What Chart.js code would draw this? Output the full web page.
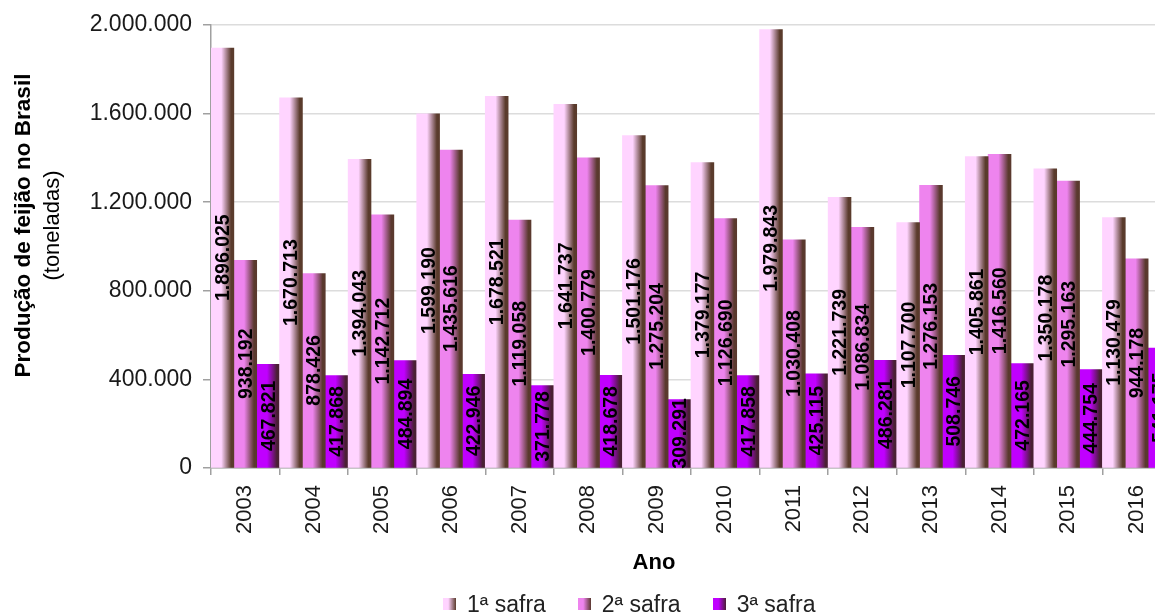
<html>
<head>
<meta charset="utf-8">
<script src="https://cdn.jsdelivr.net/npm/chart.js@4.4.0/dist/chart.umd.min.js"></script>
<style>
	body { margin: 0; background: #fff; }
	#wrap { position: relative; width: 1155px; height: 616px; overflow: hidden; }
	#chart { position: absolute; left: 0; top: 0; }
	#legenda { position: absolute; left: 443px; top: 592px; display: flex; align-items: center;
		font: 23px "Liberation Sans", Arial, sans-serif; color: #222; line-height: 24px; }
	#legenda .item { display: flex; align-items: center; margin-right: 32px; }
	#legenda .caixa { width: 13px; height: 12px; margin-right: 11px; }
</style>
</head>
<body>
<div id="wrap">
	<canvas id="chart" width="1180" height="616"></canvas>
	<div id="legenda"></div>
</div>
<script>
	var anos = ['2003', '2004', '2005', '2006', '2007', '2008', '2009', '2010', '2011', '2012', '2013', '2014', '2015', '2016'];
	var safra1 = [1896025, 1670713, 1394043, 1599190, 1678521, 1641737, 1501176, 1379177, 1979843, 1221739, 1107700, 1405861, 1350178, 1130479];
	var safra2 = [938192, 878426, 1142712, 1435616, 1119058, 1400779, 1275204, 1126690, 1030408, 1086834, 1276153, 1416560, 1295163, 944178];
	var safra3 = [467821, 417868, 484894, 422946, 371778, 418678, 309291, 417858, 425115, 486281, 508746, 472165, 444754, 541175];
	var nomes = ['1ª safra', '2ª safra', '3ª safra'];
	var yTicks = [0, 400000, 800000, 1200000, 1600000, 2000000];

	// cor de cada safra e o tom escuro do lado direito da barra
	var cores = ['#ffd4ff', '#ee84ee', '#c000ff'];
	var sombras = ['#5a3b2c', '#5a392e', '#4a1f34'];

	var FONTE = '"Liberation Sans", Arial, sans-serif';

	function milhar(v) {
		return String(Math.round(v)).replace(/\B(?=(\d{3})+(?!\d))/g, '.');
	}

	// degradê horizontal: claro à esquerda, marrom à direita
	function preenchimento(cor, sombra) {
		return function (c) {
			var xs = c.chart.scales.x;
			if (c.type !== 'data' || !xs || !c.chart.chartArea) return cor;
			var passo = xs.width / c.chart.data.labels.length;
			var larg = passo / c.chart.data.datasets.length;
			var esq = xs.getPixelForValue(c.dataIndex) - passo / 2 + c.datasetIndex * larg;
			var g = c.chart.ctx.createLinearGradient(esq, 0, esq + larg, 0);
			g.addColorStop(0, cor);
			g.addColorStop(0.45, cor);
			g.addColorStop(0.88, sombra);
			g.addColorStop(1, sombra);
			return g;
		};
	}

	// valores escritos na vertical, no meio de cada barra
	var rotulos = {
		id: 'rotulos',
		afterDatasetsDraw: function (chart) {
			var ctx = chart.ctx;
			ctx.save();
			ctx.font = 'bold 19.5px ' + FONTE;
			ctx.fillStyle = '#000';
			ctx.textAlign = 'center';
			ctx.textBaseline = 'middle';
			chart.data.datasets.forEach(function (ds, d) {
				chart.getDatasetMeta(d).data.forEach(function (bar, i) {
					ctx.save();
					ctx.translate(bar.x, (bar.y + bar.base) / 2);
					ctx.rotate(-Math.PI / 2);
					ctx.fillText(milhar(ds.data[i]), 0, 1);
					ctx.restore();
				});
			});
			ctx.restore();
		}
	};

	// títulos dos eixos (duas fontes no eixo y)
	var titulos = {
		id: 'titulos',
		afterDraw: function (chart) {
			var ctx = chart.ctx, a = chart.chartArea;
			ctx.save();
			ctx.fillStyle = '#000';
			ctx.textAlign = 'center';
			ctx.textBaseline = 'middle';
			ctx.font = 'bold 22px ' + FONTE;
			ctx.fillText('Ano', (a.left + a.right) / 2 - 37, a.bottom + 95);
			ctx.translate(24, (a.top + a.bottom) / 2 - 21);
			ctx.rotate(-Math.PI / 2);
			ctx.font = 'bold 22.5px ' + FONTE;
			ctx.fillText('Produção de feijão no Brasil', 0, 0);
			ctx.font = '22px ' + FONTE;
			ctx.fillText('(toneladas)', 0, 29);
			ctx.restore();
		}
	};

	var series = [safra1, safra2, safra3];
	var datasets = series.map(function (dados, k) {
		return {
			label: nomes[k],
			data: dados,
			backgroundColor: preenchimento(cores[k], sombras[k]),
			borderWidth: 0,
			barPercentage: 1,
			categoryPercentage: 1
		};
	});

	var chart = new Chart(document.getElementById('chart'), {
		type: 'bar',
		data: { labels: anos, datasets: datasets },
		plugins: [rotulos, titulos],
		options: {
			responsive: false,
			animation: false,
			devicePixelRatio: 1,
			layout: { padding: { top: 25, right: 9, left: 0, bottom: 72 } },
			plugins: { legend: { display: false }, tooltip: { enabled: false } },
			scales: {
				x: {
					grid: { drawOnChartArea: false, tickLength: 7, color: '#a0a0a0', lineWidth: 1.5 },
					border: { color: '#a0a0a0', width: 1.5 },
					ticks: {
						autoSkip: false, maxRotation: 90, minRotation: 90, padding: 10,
						color: '#1a1a1a', font: { family: FONTE, size: 22 }
					}
				},
				y: {
					min: 0,
					max: 2000000,
					afterFit: function (s) { s.width = 211; },
					afterBuildTicks: function (s) { s.ticks = yTicks.map(function (v) { return { value: v }; }); },
					grid: { color: '#dcdcdc', lineWidth: 1.5, tickLength: 8, tickColor: '#a0a0a0' },
					border: { color: '#a0a0a0', width: 1.5 },
					ticks: {
						padding: 11, color: '#1a1a1a', font: { family: FONTE, size: 23 },
						callback: function (v) { return milhar(v); }
					}
				}
			}
		}
	});

	// legenda em HTML, montada a partir dos datasets
	var legenda = document.getElementById('legenda');
	chart.data.datasets.forEach(function (ds, k) {
		var item = document.createElement('span');
		item.className = 'item';
		var caixa = document.createElement('span');
		caixa.className = 'caixa';
		caixa.style.background = 'linear-gradient(to right, ' + cores[k] + ' 0%, ' + cores[k] + ' 40%, ' + sombras[k] + ' 100%)';
		item.appendChild(caixa);
		item.appendChild(document.createTextNode(ds.label));
		legenda.appendChild(item);
	});
</script>
</body>
</html>
